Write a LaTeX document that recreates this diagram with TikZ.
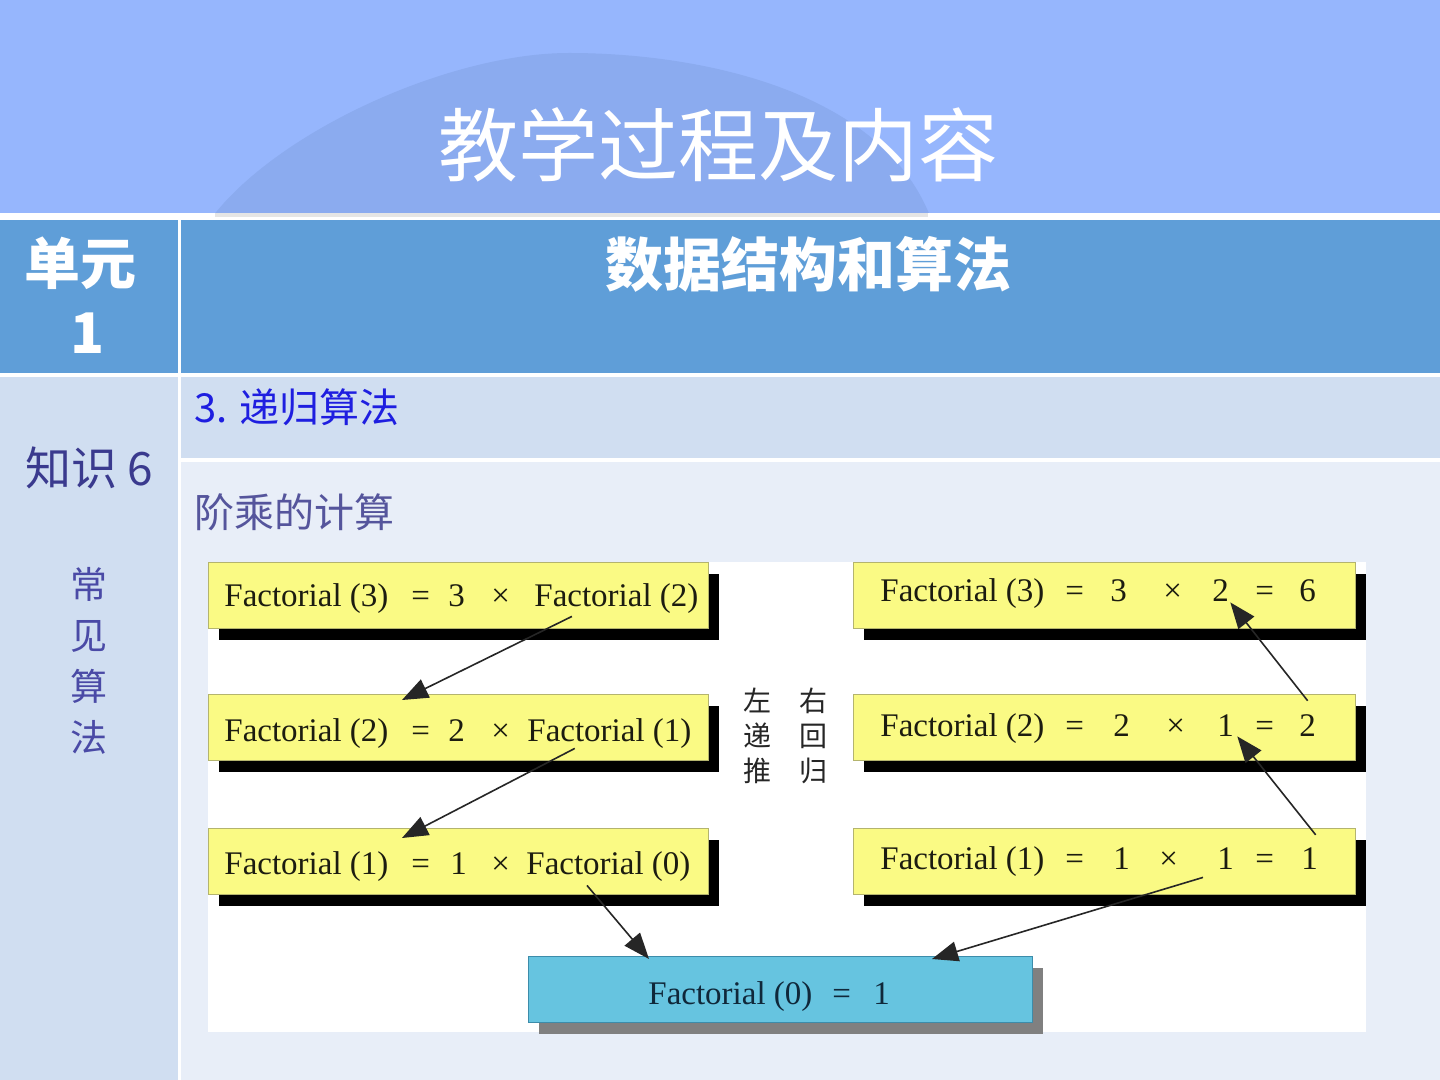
\documentclass[tikz,border=0pt]{standalone}
\usepackage{fontspec}
\setmainfont{Liberation Serif}
\newfontfamily\cjk{Noto Sans CJK SC}
\usetikzlibrary{arrows.meta,shadows,calc}
\definecolor{hdr}{HTML}{96B6FD}
\definecolor{arcc}{HTML}{8BABEF}
\definecolor{rowone}{HTML}{5F9ED8}
\definecolor{cellA}{HTML}{D0DEF1}
\definecolor{cellB}{HTML}{E8EEF8}
\definecolor{yel}{HTML}{FAFA84}
\definecolor{yelb}{HTML}{B4B46E}
\definecolor{cyanbox}{HTML}{66C4E0}
\definecolor{cyanb}{HTML}{3C8CAA}
\definecolor{navy}{HTML}{3A3A8E}
\definecolor{navyl}{HTML}{4A4AA6}
\definecolor{subt}{HTML}{55559C}
\definecolor{bluet}{HTML}{1E1EE0}
\definecolor{ink}{HTML}{1C1C10}
\definecolor{inkb}{HTML}{10283A}
\begin{document}
\begin{tikzpicture}[x=0.5pt,y=-0.5pt,
  ybox/.style={draw=yelb, line width=0.5pt, fill=yel, anchor=north west, inner sep=0pt,
    minimum width=250pt, minimum height=33pt,
    drop shadow={shadow xshift=5pt, shadow yshift=-5.5pt, fill=black, opacity=1}},
  rbox/.style={ybox, minimum width=251pt},
  cbox/.style={draw=cyanb, line width=0.5pt, fill=cyanbox, anchor=north west, inner sep=0pt,
    minimum width=252pt, minimum height=33pt,
    drop shadow={shadow xshift=5pt, shadow yshift=-5.5pt, fill=black!50, opacity=1}},
  ft/.style={font=\fontsize{16.5}{18}\selectfont, inner sep=0pt, anchor=base west, text=ink},
  fb/.style={ft, text=inkb},
  arr/.style={draw=black!85, line width=0.8pt, -{Triangle[length=13pt,width=10pt]}},
  side/.style={font=\cjk\fontsize{14}{17.5}\selectfont, text=black!85, align=center, inner sep=0pt}
]
\useasboundingbox (0,0) rectangle (1440,1080);
% header
\fill[hdr] (0,0) rectangle (1440,213);
\fill[arcc] (213,216) .. controls (280,130) and (450,53) .. (569,53)
   .. controls (700,53) and (880,90) .. (930,216) -- cycle;
\fill[white] (0,213) rectangle (1440,1080);
\fill[black!10] (215,213) rectangle (928,217);
\node[font=\cjk\fontsize{40}{44}\selectfont, text=white, inner sep=0pt] (title) at (718,145) {教学过程及内容};
% table
\fill[rowone] (0,220) rectangle (178,373);
\fill[rowone] (181,220) rectangle (1440,373);
\fill[cellA] (0,377) rectangle (178,1080);
\fill[cellA] (181,377) rectangle (1440,458);
\fill[cellB] (181,462) rectangle (1440,1080);
\node[font=\cjk\bfseries\fontsize{28}{30}\selectfont, text=white, inner sep=0pt] (unit) at (81,263) {单元};
\node[font=\cjk\bfseries\fontsize{28}{30}\selectfont, text=white, inner sep=0pt] (unitn) at (88,333) {1};
\node[font=\cjk\bfseries\fontsize{29}{31}\selectfont, text=white, inner sep=0pt] (topic) at (808,264) {数据结构和算法};
\node[font=\cjk\fontsize{20}{22}\selectfont, text=bluet, inner sep=0pt, anchor=west] (sec) at (194,407) {3. 递归算法};
\node[font=\cjk\fontsize{23}{25}\selectfont, text=navy, inner sep=0pt] (know) at (89,468) {知识 6};
\node[font=\cjk\fontsize{18.5}{25.5}\selectfont, text=navyl, inner sep=0pt, align=center] (kind) at (89,661) {常\\见\\算\\法};
\node[font=\cjk\fontsize{20}{22}\selectfont, text=subt, inner sep=0pt, anchor=west] (calc) at (194,512) {阶乘的计算};
% figure area
\fill[white] (208,562) rectangle (1366,1032);
% left boxes
\node[ybox] (L1) at (208,562) {};
\node[ybox] (L2) at (208,694) {};
\node[ybox] (L3) at (208,828) {};
% right boxes
\node[rbox] (R1) at (853,562) {};
\node[rbox] (R2) at (853,694) {};
\node[rbox] (R3) at (853,828) {};
% bottom box
\node[cbox] (B) at (528,956) {};
% left texts
\node[ft] (L1a) at (224,606) {Factorial (3)};
\node[ft] (L1b) at (411,606) {=};
\node[ft] (L1c) at (448,606) {3};
\node[ft] (L1d) at (491,606) {×};
\node[ft] (L1r) at (534,606) {Factorial (2)};
\node[ft] (L2a) at (224,741) {Factorial (2)};
\node[ft] (L2b) at (411,741) {=};
\node[ft] (L2c) at (448,741) {2};
\node[ft] (L2d) at (491,741) {×};
\node[ft] (L2r) at (527,741) {Factorial (1)};
\node[ft] (L3a) at (224,874) {Factorial (1)};
\node[ft] (L3b) at (411,874) {=};
\node[ft] (L3c) at (450,874) {1};
\node[ft] (L3d) at (491,874) {×};
\node[ft] (L3r) at (526,874) {Factorial (0)};
% right texts
\node[ft] (R1a) at (880,601) {Factorial (3)};
\node[ft] (R1b) at (1065,601) {=};
\node[ft] (R1c) at (1110,601) {3};
\node[ft] (R1d) at (1163,601) {×};
\node[ft] (R1e) at (1212,601) {2};
\node[ft] (R1f) at (1255,601) {=};
\node[ft] (R1g) at (1299,601) {6};
\node[ft] (R2a) at (880,736) {Factorial (2)};
\node[ft] (R2b) at (1065,736) {=};
\node[ft] (R2c) at (1113,736) {2};
\node[ft] (R2x) at (1166,736) {×};
\node[ft] (R2d) at (1217,736) {1};
\node[ft] (R2f) at (1255,736) {=};
\node[ft] (R2g) at (1299,736) {2};
\node[ft] (R3a) at (880,869) {Factorial (1)};
\node[ft] (R3b) at (1065,869) {=};
\node[ft] (R3c) at (1113,869) {1};
\node[ft] (R3x) at (1159,869) {×};
\node[ft] (R3d) at (1217,869) {1};
\node[ft] (R3f) at (1255,869) {=};
\node[ft] (R3g) at (1301,869) {1};
% bottom text
\node[fb] (Ba) at (648,1004) {Factorial (0)};
\node[fb] (Bb) at (832,1004) {=};
\node[fb] (Bc) at (873,1004) {1};
% side labels
\node[side] (lft) at (757,736) {左\\递\\推};
\node[side] (rgt) at (813,736) {右\\回\\归};
% arrows
\draw[arr] ($(L1r.south west)!0.23!(L1r.south east)+(0,3)$) -- ($(L2.north west)+(194,6)$);
\draw[arr] ($(L2r.south west)!0.29!(L2r.south east)$) -- ($(L3.north west)+(194,10)$);
\draw[arr] ($(L3r.south west)!0.37!(L3r.south east)+(0,4)$) -- ($(B.north west)+(121,3)$);
\draw[arr] ($(R3d.south west)+(-14,8)$) -- ($(B.north west)+(404,3)$);
\draw[arr] ($(R3g.north)+(6,-12)$) -- ($(R2d.south east)+(3,0)$);
\draw[arr] ($(R2g.north)+(0,-13)$) -- ($(R1e.south east)+(1,1)$);
\end{tikzpicture}
\end{document}
